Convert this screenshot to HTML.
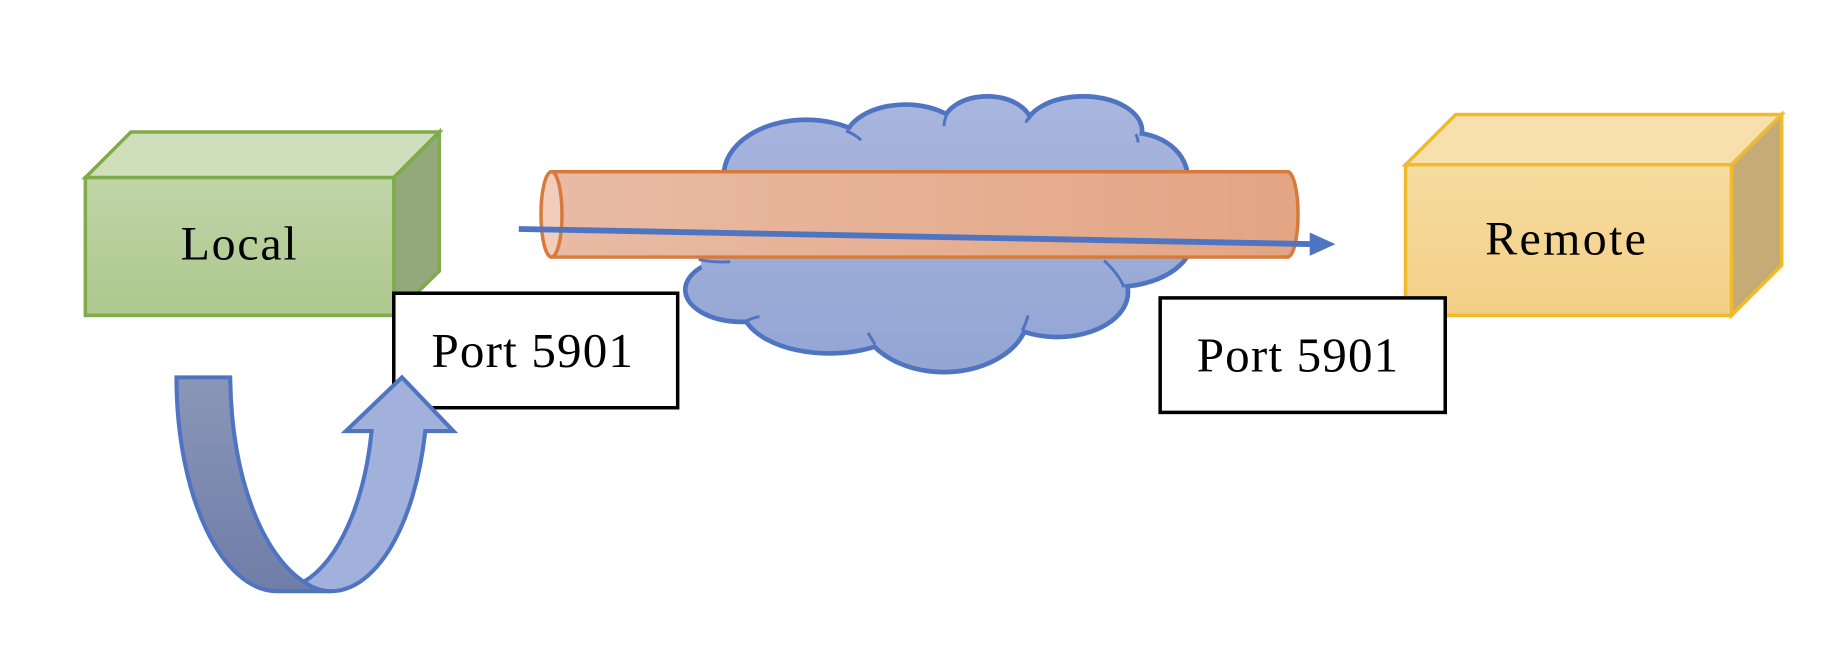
<!DOCTYPE html>
<html><head><meta charset="utf-8"><style>html,body{margin:0;padding:0;background:#fff;}svg{display:block}</style></head>
<body>
<svg width="1832" height="647" viewBox="0 0 1568 553.8" xmlns="http://www.w3.org/2000/svg">
<defs>
<linearGradient id="gF" x1="0" y1="0" x2="0" y2="1"><stop offset="0" stop-color="#c0d5a8"/><stop offset="1" stop-color="#adc78d"/></linearGradient>
<linearGradient id="yF" x1="0" y1="0" x2="0" y2="1"><stop offset="0" stop-color="#f6dca0"/><stop offset="1" stop-color="#f3cf85"/></linearGradient>
<linearGradient id="cl" gradientUnits="userSpaceOnUse" x1="0" y1="80" x2="0" y2="320"><stop offset="0" stop-color="#a9b6de"/><stop offset="1" stop-color="#93a5d4"/></linearGradient>
<linearGradient id="tb" x1="0" y1="0" x2="1" y2="0"><stop offset="0" stop-color="#e9bba4"/><stop offset="1" stop-color="#e3a584"/></linearGradient>
<linearGradient id="ua" x1="0" y1="0" x2="0" y2="1"><stop offset="0" stop-color="#8a96b8"/><stop offset="1" stop-color="#6f7ea8"/></linearGradient>
</defs>
<!-- Local box -->
<polygon points="73,152 112,113 376,113 337,152" fill="#cfdfbb" stroke="#7fab4a" stroke-width="3"/>
<polygon points="337,152 376,113 376,232 337,270" fill="#93a87b" stroke="#7fab4a" stroke-width="3"/>
<rect x="73" y="152" width="264" height="118" fill="url(#gF)" stroke="#7fab4a" stroke-width="3"/>
<text x="205" y="222" font-family="Liberation Serif, serif" font-size="41" letter-spacing="1.5" text-anchor="middle">Local</text>
<!-- Remote box -->
<polygon points="1203,141 1246,98 1525,98 1482,141" fill="#f7e0ab" stroke="#f0b92e" stroke-width="3"/>
<polygon points="1482,141 1525,98 1525,227 1482,270" fill="#c5ab76" stroke="#f0b92e" stroke-width="3"/>
<rect x="1203" y="141" width="279" height="129" fill="url(#yF)" stroke="#f0b92e" stroke-width="3"/>
<text x="1341" y="218" font-family="Liberation Serif, serif" font-size="41" letter-spacing="2" text-anchor="middle">Remote</text>
<!-- Cloud -->
<g stroke="#4f74c2" stroke-width="5" fill="none">
<ellipse cx="690" cy="150" rx="70" ry="47"/>
<ellipse cx="775" cy="122" rx="52" ry="32"/>
<ellipse cx="845" cy="108" rx="38" ry="25"/>
<ellipse cx="927" cy="112" rx="50" ry="29"/>
<ellipse cx="968" cy="152" rx="48" ry="38"/>
<ellipse cx="955" cy="205" rx="65" ry="40"/>
<ellipse cx="905" cy="250" rx="60" ry="38"/>
<ellipse cx="808" cy="268" rx="72" ry="50"/>
<ellipse cx="710" cy="262" rx="75" ry="40"/>
<ellipse cx="635" cy="248" rx="48" ry="27"/>
</g>
<g fill="url(#cl)">
<ellipse cx="690" cy="150" rx="68.5" ry="45.5"/>
<ellipse cx="775" cy="122" rx="50.5" ry="30.5"/>
<ellipse cx="845" cy="108" rx="36.5" ry="23.5"/>
<ellipse cx="927" cy="112" rx="48.5" ry="27.5"/>
<ellipse cx="968" cy="152" rx="46.5" ry="36.5"/>
<ellipse cx="955" cy="205" rx="63.5" ry="38.5"/>
<ellipse cx="905" cy="250" rx="58.5" ry="36.5"/>
<ellipse cx="808" cy="268" rx="70.5" ry="48.5"/>
<ellipse cx="710" cy="262" rx="73.5" ry="38.5"/>
<ellipse cx="635" cy="248" rx="46.5" ry="25.5"/>
<ellipse cx="800" cy="200" rx="170" ry="70"/>
<ellipse cx="860" cy="138" rx="105" ry="30"/>
<ellipse cx="930" cy="160" rx="60" ry="40"/>
<ellipse cx="660" cy="225" rx="60" ry="30"/>
</g>
<g stroke="#4f74c2" stroke-width="2.5" fill="none">
<path d="M724,112 Q732,115 737,120"/><path d="M811,97 Q808,102 808,108"/><path d="M885,96 Q880,100 878,105"/>
<path d="M972,115 Q974,118 974,122"/><path d="M640,274 Q645,272 650,271"/><path d="M743,285 Q746,290 749,295"/>
<path d="M880,270 Q878,277 875,283"/><path d="M945,223 Q958,235 962,246"/><path d="M598,222 Q610,225 625,224"/>
</g>
<!-- Tube -->
<rect x="472" y="147" width="630" height="73" fill="url(#tb)" stroke="#d77a3c" stroke-width="3"/>
<ellipse cx="1102" cy="183.5" rx="9" ry="36.5" fill="#e3a584" stroke="#d77a3c" stroke-width="3"/>
<rect x="472" y="148.5" width="630" height="70" fill="url(#tb)"/>
<ellipse cx="472" cy="183.5" rx="9" ry="36.5" fill="#f2cdbb" stroke="#d77a3c" stroke-width="3"/>
<!-- Line arrow -->
<line x1="444" y1="196" x2="1125" y2="209" stroke="#4f74c2" stroke-width="5"/>
<polygon points="1121,199 1143,209 1121,219" fill="#4f74c2"/>
<!-- Port boxes -->
<rect x="337" y="251" width="243" height="98" fill="#fff" stroke="#000" stroke-width="3"/>
<text x="456" y="314" font-family="Liberation Serif, serif" font-size="42" letter-spacing="1" text-anchor="middle">Port 5901</text>
<rect x="993" y="255" width="244" height="98" fill="#fff" stroke="#000" stroke-width="3"/>
<text x="1111" y="318" font-family="Liberation Serif, serif" font-size="42" letter-spacing="1" text-anchor="middle">Port 5901</text>
<!-- U arrow -->
<path d="M151,323 L197,323 C198,410 225,475 260,498 L283,506 L237,506 C190,506 151,425 151,323 Z" fill="url(#ua)" stroke="#4f74c2" stroke-width="3.5"/>
<path d="M260,498 C290,480 312,430 318,369 L296,369 L344,323 L388,369 L364,369 C355,450 322,506 283,506 C275,506 267,503 260,498 Z" fill="#a2b1dc" stroke="#4f74c2" stroke-width="3.5"/>
</svg>
</body></html>
